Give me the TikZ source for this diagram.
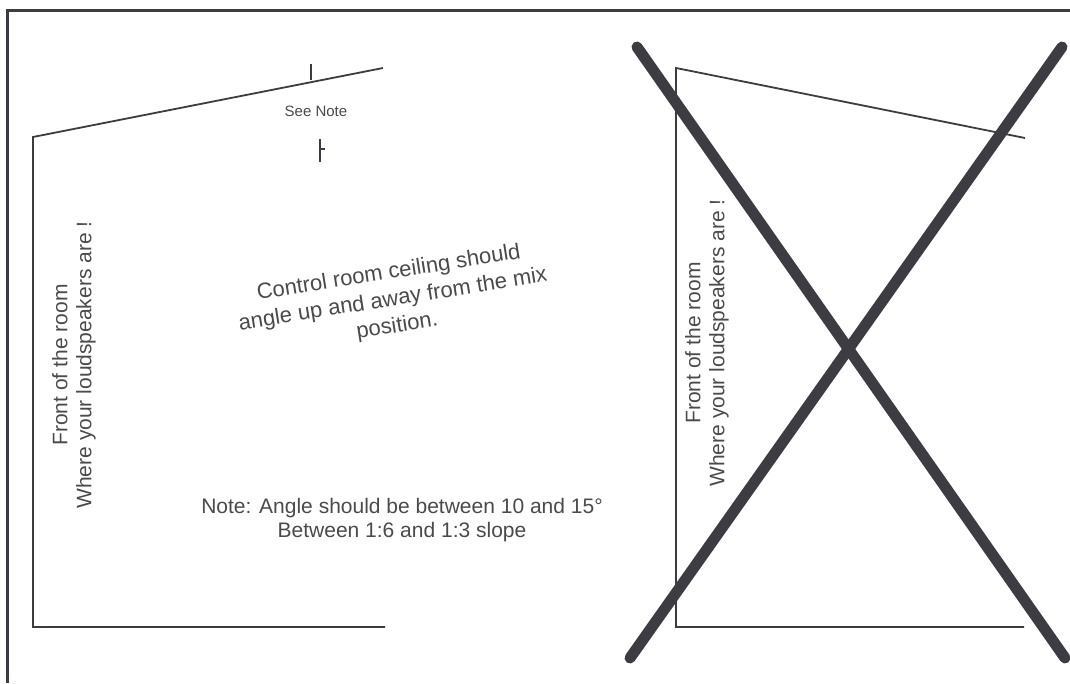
\documentclass[tikz,border=0pt]{standalone}
\usepackage{fontspec}
\setmainfont{Liberation Sans}
\usepackage{xcolor}
\usetikzlibrary{positioning}
\definecolor{inkgray}{HTML}{3C3C42}
\definecolor{textgray}{HTML}{4A4A4A}
\tikzset{
  frameline/.style={draw=inkgray, line width=3pt},
  wall/.style={draw=inkgray, line width=1.8pt},
  crossout/.style={draw=inkgray, line width=11pt, line cap=round},
  tickmark/.style={draw=inkgray, line width=1.6pt},
  label/.style={font=\fontsize{21}{24}\selectfont, text=textgray, align=center, inner sep=0pt},
  smalllabel/.style={font=\fontsize{15}{17}\selectfont, text=textgray, inner sep=0pt},
}

\begin{document}
\begin{tikzpicture}[x=1pt, y=-1pt]
  \useasboundingbox (0,0) rectangle (1070,683);

  % Frame
  \draw[frameline] (7,683) -- (7,10) -- (1070,10);

  % Left room: ceiling angled up, away from the front
  \coordinate (lceil) at (33,137);
  \coordinate (lceilend) at (383,68);
  \coordinate (lfloor) at (33,627);
  \coordinate (lfloorend) at (385,627);
  \draw[wall] (lceilend) -- (lceil) -- (lfloor) -- (lfloorend);

  % See Note marks
  \draw[tickmark] (311,64) -- (311,80);
  \node[smalllabel] (seenote) at (316,111) {See Note};
  \draw[tickmark] (320,139) -- (320,162);
  \draw[tickmark] (320,149) -- (325,149);

  \node[label, rotate=90] (lfront) at (74,365)
    {Front of the room\\Where your loudspeakers are !};
  \node[label, font=\fontsize{22}{27}\selectfont, rotate=9] (ceilnote) at (393,300)
    {Control room ceiling should\\angle up and away from the mix\\position.};
  \node[label] (anglenote) at (402,520)
    {Note: Angle should be between 10 and 15°\\Between 1:6 and 1:3 slope};

  % Right room: ceiling angled down (wrong)
  \coordinate (rceil) at (676,68);
  \coordinate (rceilend) at (1025,138);
  \coordinate (rfloor) at (676,627);
  \coordinate (rfloorend) at (1024,627);
  \draw[wall] (rceilend) -- (rceil) -- (rfloor) -- (rfloorend);

  \node[label, rotate=90] (rfront) at (707,343)
    {Front of the room\\Where your loudspeakers are !};

  % Cross out
  \coordinate (xa) at (637,47);
  \coordinate (xb) at (1065,658);
  \coordinate (xc) at (1062,47);
  \coordinate (xd) at (630,658);
  \draw[crossout] (xa) -- (xb);
  \draw[crossout] (xc) -- (xd);

\end{tikzpicture}
\end{document}
